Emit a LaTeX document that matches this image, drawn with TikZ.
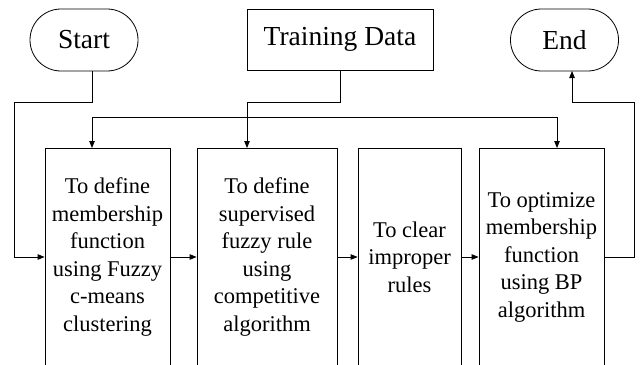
\documentclass[tikz,border=0pt]{standalone}
\usepackage{fontspec}
\setmainfont{Liberation Serif}
\usetikzlibrary{arrows.meta}

\tikzset{
    terminal/.style={draw, line width=0.8pt, rounded corners=31pt, minimum width=108pt, minimum height=62pt, font=\fontsize{27.5}{32}\selectfont},
    databox/.style={draw, line width=0.8pt, minimum width=186pt, minimum height=61pt, font=\fontsize{27.5}{32}\selectfont},
    stepbox/.style={draw, line width=0.8pt, minimum height=218pt, align=center, inner sep=0pt, font=\fontsize{22.5}{27.5}\selectfont},
    link/.style={line width=0.8pt, -{Triangle[length=7pt,width=5.5pt]}},
}

\begin{document}
\begin{tikzpicture}[x=1pt, y=-1pt]
        \useasboundingbox (0, 0) rectangle (644, 364);
        \clip (0, 0) rectangle (644, 364);

        % Draw the start, data and end nodes along the top
        \node[terminal] (start) at (84, 40) {Start};
        \node[databox] (data) at (340, 39.5) {Training Data};
        \node[terminal] (end) at (564.5, 40) {End};

        % Draw the four steps, cut off by the bottom edge
        \node[stepbox, minimum width=125pt] (define) at (107.5, 257) {To define\\membership\\function\\using Fuzzy\\c-means\\clustering};
        \node[stepbox, minimum width=140pt] (rules) at (267, 257) {To define\\supervised\\fuzzy rule\\using\\competitive\\algorithm};
        \node[stepbox, minimum width=103pt] (clear) at (409.5, 257) {To clear\\improper\\rules};
        \node[stepbox, minimum width=125pt] (optimize) at (541.5, 257) {To optimize\\membership\\function\\using BP\\algorithm};

        % Bend points of the connectors
        \coordinate (startout) at (92, 71);
        \coordinate (startbend) at (14, 102);
        \coordinate (dataout) at (340, 70);
        \coordinate (datain) at (247, 148);
        \coordinate (busleft) at (92, 148);
        \coordinate (busright) at (557, 148);
        \coordinate (endbend) at (634, 102);
        \coordinate (endin) at (572, 71);

        % Draw the connectors
        \draw[link] (startout) |- (startbend) |- (define.west);
        \draw[link] (dataout) -- (340, 102) -| (datain);
        \draw[link, {Triangle[length=7pt,width=5.5pt]}-{Triangle[length=7pt,width=5.5pt]}] (busleft) |- (92, 117) -- (557, 117) -- (busright);
        \draw[link] (define.east) -- (rules.west);
        \draw[link] (rules.east) -- (clear.west);
        \draw[link] (clear.east) -- (optimize.west);
        \draw[link] (optimize.east) -| (endbend) -| (endin);
    \end{tikzpicture}
\end{document}
